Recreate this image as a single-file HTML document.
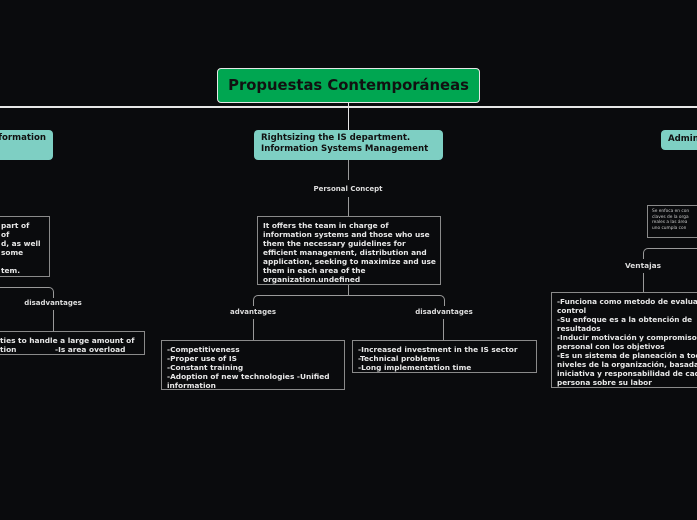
<!DOCTYPE html>
<html><head><meta charset="utf-8"><style>
html,body{margin:0;padding:0;background:#0a0b0d;}
#w{width:697px;height:520px;background:#0a0b0d;position:relative;overflow:hidden;font-family:"DejaVu Sans","Liberation Sans",sans-serif;}
.a{position:absolute;}
.t{font-size:7.4px;font-weight:bold;color:#e8e8e8;line-height:9px;white-space:nowrap;}
.box{position:absolute;border:1px solid #8a8a8a;box-sizing:border-box;padding:4px 0 0 5px;overflow:hidden;}
.l{position:absolute;background:#9a9a9a;}
.lbl{position:absolute;font-size:7px;font-weight:bold;color:#ddd;white-space:nowrap;transform:translateX(-50%);}
.teal{position:absolute;background:#7ecfc3;border-radius:4px;font-size:8.6px;font-weight:bold;color:#111;line-height:11px;box-sizing:border-box;padding:3px 7px;white-space:nowrap;overflow:hidden;}
.br{position:absolute;border:1px solid #9a9a9a;border-bottom:none;border-radius:5px 5px 0 0;}
</style></head><body><div id="w">
<div class="a" style="left:0;top:106px;width:697px;height:2px;background:#e6e6e6"></div>
<div class="a" style="left:217px;top:68px;width:263px;height:35px;background:#00a651;border:1px solid #e6e6e6;border-radius:4px;box-sizing:border-box;font-size:14.8px;font-weight:bold;color:#111;text-align:center;line-height:33px;">Propuestas Contemporáneas</div>
<div class="l" style="left:348px;top:103px;width:1px;height:27px;background:#e6e6e6"></div>

<div class="teal" style="left:254px;top:130px;width:189px;height:30px">Rightsizing the IS department.<br>Information Systems Management</div>
<div class="l" style="left:348px;top:160px;width:1px;height:20px"></div>
<div class="lbl" style="left:348px;top:185px">Personal Concept</div>
<div class="l" style="left:348px;top:197px;width:1px;height:19px"></div>
<div class="box t" style="left:257px;top:216px;width:184px;height:69px">It offers the team in charge of<br>information systems and those who use<br>them the necessary guidelines for<br>efficient management, distribution and<br>application, seeking to maximize and use<br>them in each area of the<br>organization.undefined</div>
<div class="l" style="left:348px;top:285px;width:1px;height:10px"></div>
<div class="br" style="left:253px;top:295px;width:190px;height:10px"></div>
<div class="lbl" style="left:253px;top:308px">advantages</div>
<div class="lbl" style="left:444px;top:308px">disadvantages</div>
<div class="l" style="left:253px;top:319px;width:1px;height:21px"></div>
<div class="l" style="left:443px;top:319px;width:1px;height:21px"></div>
<div class="box t" style="left:161px;top:340px;width:184px;height:50px">-Competitiveness<br>-Proper use of IS<br>-Constant training<br>-Adoption of new technologies -Unified<br>information</div>
<div class="box t" style="left:352px;top:340px;width:185px;height:33px">-Increased investment in the IS sector<br>-Technical problems<br>-Long implementation time</div>

<div class="teal" style="left:0;top:130px;width:53px;height:30px;padding:3px 7px 0 0;text-align:right;border-radius:0 4px 4px 0;direction:rtl">Information</div>
<div class="box t" style="left:0;top:216px;width:50px;height:61px;border-left:none;padding:4px 0 0 1px">part of<br>of<br>d, as well<br>some<br><br>tem.</div>
<div class="br" style="left:0;top:287px;width:53px;height:10px;border-left:none;border-radius:0 5px 0 0"></div>
<div class="lbl" style="left:53px;top:299px">disadvantages</div>
<div class="l" style="left:53px;top:310px;width:1px;height:21px"></div>
<div class="box t" style="left:0;top:331px;width:145px;height:24px;border-left:none;padding-left:0">ties to handle a large amount of<br>tion&nbsp;&nbsp;&nbsp;&nbsp;&nbsp;&nbsp;&nbsp;&nbsp;&nbsp;&nbsp;&nbsp;&nbsp;&nbsp;&nbsp;&nbsp;-Is area overload</div>

<div class="teal" style="left:661px;top:130px;width:36px;height:20px;padding-top:4px;border-radius:4px 0 0 4px">Administración</div>
<div class="box" style="left:647px;top:205px;width:50px;height:33px;padding:3px 0 0 4px;font-size:4.3px;line-height:5.6px;color:#ccc;white-space:nowrap;border-right:none">Se enfoca en con<br>claves de la orga<br>reales a las área<br>uno cumpla con</div>
<div class="br" style="left:643px;top:248px;width:54px;height:10px;border-right:none;border-radius:5px 0 0 0"></div>
<div class="lbl" style="left:643px;top:261px;font-size:7.4px">Ventajas</div>
<div class="l" style="left:643px;top:273px;width:1px;height:19px"></div>
<div class="box t" style="left:551px;top:292px;width:146px;height:96px;font-size:7.3px;line-height:9px;padding-top:4px;border-right:none">-Funciona como metodo de evaluación y<br>control<br>-Su enfoque es a la obtención de<br>resultados<br>-Inducir motivación y compromiso del<br>personal con los objetivos<br>-Es un sistema de planeación a todos los<br>niveles de la organización, basada en la<br>iniciativa y responsabilidad de cada<br>persona sobre su labor</div>
</div></body></html>
